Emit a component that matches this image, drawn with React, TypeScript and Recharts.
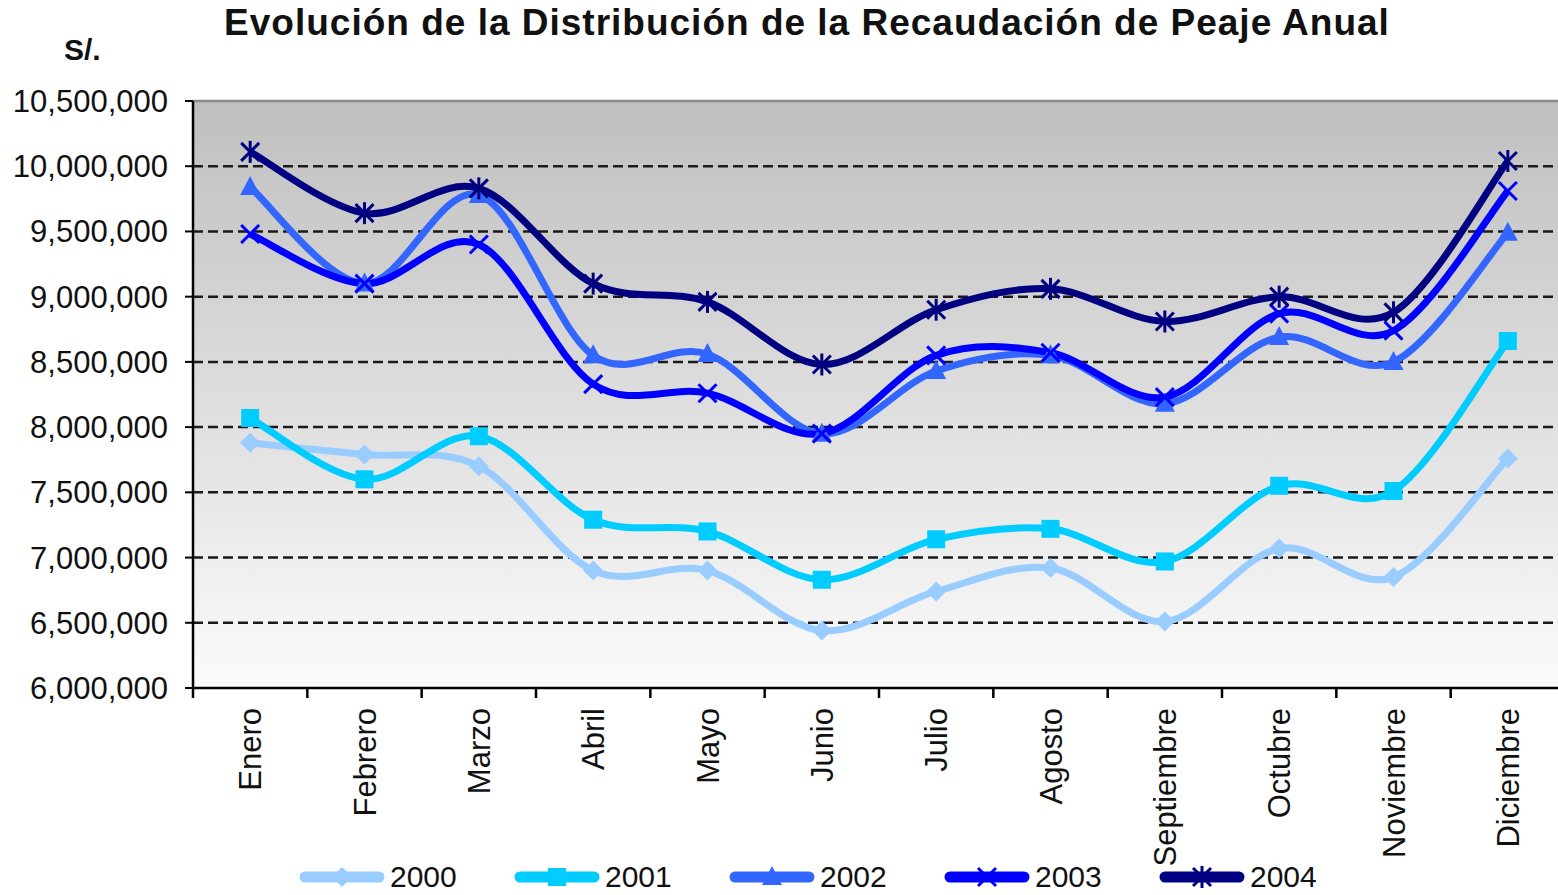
import React from 'react';
import { LineChart, Line, XAxis, YAxis, CartesianGrid, ReferenceLine, Legend } from 'recharts';

const months = ['Enero', 'Febrero', 'Marzo', 'Abril', 'Mayo', 'Junio', 'Julio', 'Agosto', 'Septiembre', 'Octubre', 'Noviembre', 'Diciembre'];
const seriesNames = ['2000', '2001', '2002', '2003', '2004'];
const v2000 = [7880000, 7790000, 7700000, 6900000, 6900000, 6440000, 6740000, 6920000, 6510000, 7070000, 6850000, 7760000];
const v2001 = [8070000, 7600000, 7930000, 7290000, 7200000, 6830000, 7140000, 7220000, 6970000, 7550000, 7510000, 8660000];
const v2002 = [9840000, 9100000, 9780000, 8550000, 8560000, 7950000, 8430000, 8550000, 8180000, 8690000, 8500000, 9490000];
const v2003 = [9480000, 9100000, 9400000, 8330000, 8260000, 7950000, 8550000, 8570000, 8230000, 8870000, 8740000, 9810000];
const v2004 = [10110000, 9640000, 9830000, 9100000, 8960000, 8480000, 8900000, 9060000, 8810000, 9000000, 8880000, 10040000];
const seriesValues = [v2000, v2001, v2002, v2003, v2004];
const yTicks = [6000000, 6500000, 7000000, 7500000, 8000000, 8500000, 9000000, 9500000, 10000000, 10500000];
const gridValues = [6500000, 7000000, 7500000, 8000000, 8500000, 9000000, 9500000, 10000000];
// category boundaries (tick marks) and category centres (labels) on the x axis
const xTicks = [0, 0.5, 1, 1.5, 2, 2.5, 3, 3.5, 4, 4.5, 5, 5.5, 6, 6.5, 7, 7.5, 8, 8.5, 9, 9.5, 10, 10.5, 11, 11.5, 12];

const seriesColors = ['#99CCFF', '#00CCFF', '#3366FF', '#0000FF', '#000080'];
const seriesShapes = ['diamond', 'square', 'triangle', 'x', 'star'];

const data = months.map((m, i) => {
  const row: any = { month: m, x: i + 0.5 };
  seriesNames.forEach((n, k) => { row[n] = seriesValues[k][i]; });
  return row;
});

// Excel-like smoothed line (Catmull-Rom) as a d3 curve factory
function smoothCurve(context: any) {
  let pts: number[][] = [];
  return {
    areaStart() {},
    areaEnd() {},
    lineStart() { pts = []; },
    point(x: number, y: number) { pts.push([+x, +y]); },
    lineEnd() {
      const n = pts.length;
      if (!n) return;
      context.moveTo(pts[0][0], pts[0][1]);
      if (n === 1) { context.lineTo(pts[0][0], pts[0][1]); return; }
      for (let i = 0; i < n - 1; i++) {
        const p0 = pts[i - 1] || pts[i];
        const p1 = pts[i];
        const p2 = pts[i + 1];
        const p3 = pts[i + 2] || p2;
        context.bezierCurveTo(
          p1[0] + (p2[0] - p0[0]) / 6, p1[1] + (p2[1] - p0[1]) / 6,
          p2[0] - (p3[0] - p1[0]) / 6, p2[1] - (p3[1] - p1[1]) / 6,
          p2[0], p2[1]
        );
      }
    },
  };
}

function Marker({ cx, cy, shape, color, s = 1 }: any) {
  if (cx == null || cy == null) return null;
  const r = 10 * s;
  if (shape === 'diamond') {
    return <polygon points={`${cx},${cy - r} ${cx + r},${cy} ${cx},${cy + r} ${cx - r},${cy}`} fill={color} />;
  }
  if (shape === 'square') {
    return <rect x={cx - 9 * s} y={cy - 9 * s} width={18 * s} height={18 * s} fill={color} />;
  }
  if (shape === 'triangle') {
    return <polygon points={`${cx},${cy - 11 * s} ${cx + 10 * s},${cy + 8 * s} ${cx - 10 * s},${cy + 8 * s}`} fill={color} />;
  }
  const d = 9 * s;
  const lines = [
    <line key="a" x1={cx - d} y1={cy - d} x2={cx + d} y2={cy + d} stroke={color} strokeWidth={3} />,
    <line key="b" x1={cx - d} y1={cy + d} x2={cx + d} y2={cy - d} stroke={color} strokeWidth={3} />,
  ];
  if (shape === 'star') {
    lines.push(<line key="c" x1={cx} y1={cy - d - 2} x2={cx} y2={cy + d + 2} stroke={color} strokeWidth={3} />);
  }
  return <g>{lines}</g>;
}

const XTick = ({ x, y, payload }: any) => {
  const v = payload.value;
  if (Number.isInteger(v)) {
    return <line x1={x} y1={y} x2={x} y2={y + 10} stroke="#000" strokeWidth={2.5} />;
  }
  const ty = y + 20;
  return (
    <text
      x={x}
      y={ty}
      transform={`rotate(-90, ${x}, ${ty})`}
      textAnchor="end"
      dy="0.36em"
      fontSize={31}
      fill="#111"
      fontFamily="'Liberation Sans', Arial, sans-serif"
    >
      {months[Math.floor(v)]}
    </text>
  );
};

const LegendRow = () => (
  <div style={{ position: 'relative', height: 0, overflow: 'visible' }}>
    {seriesNames.map((n, k) => (
      <div key={n} style={{ position: 'absolute', left: 298 + 215 * k, top: 0, display: 'flex', alignItems: 'center', height: 40 }}>
        <svg width={88} height={40}>
          <line x1={7} y1={20} x2={81} y2={20} stroke={seriesColors[k]} strokeWidth={11} strokeLinecap="round" />
          <Marker cx={44} cy={20} shape={seriesShapes[k]} color={seriesColors[k]} s={1} />
        </svg>
        <span style={{ fontSize: 30, color: '#111', marginLeft: 4, lineHeight: '40px' }}>{n}</span>
      </div>
    ))}
  </div>
);

export default function App() {
  return (
    <div style={{ position: 'fixed', left: 0, top: 0, width: 1558, height: 895, overflow: 'hidden', background: '#fff', fontFamily: "'Liberation Sans', Arial, sans-serif" }}>
      <div style={{ position: 'absolute', left: 0, width: 1614, top: 2, textAlign: 'center', fontWeight: 'bold', fontSize: 37, letterSpacing: 1, color: '#111', whiteSpace: 'nowrap' }}>
        Evolución de la Distribución de la Recaudación de Peaje Anual
      </div>
      <div style={{ position: 'absolute', left: 64, top: 33, fontWeight: 'bold', fontSize: 30, color: '#111' }}>S/.</div>
      <LineChart width={1600} height={895} data={data} margin={{ top: 101, right: 35, left: 0, bottom: 0 }}>
        <defs>
          <linearGradient id="plotBg" x1="0" y1="0" x2="0" y2="1">
            <stop offset="0%" stopColor="#bfbfbf" />
            <stop offset="100%" stopColor="#fbfbfb" />
          </linearGradient>
        </defs>
        <CartesianGrid
          vertical={false}
          fill="url(#plotBg)"
          fillOpacity={1}
          horizontalValues={gridValues}
          stroke="#1a1a1a"
          strokeWidth={2.5}
          strokeDasharray="10 5"
        />
        <XAxis
          type="number"
          dataKey="x"
          domain={[0, 12]}
          ticks={xTicks}
          interval={0}
          height={207}
          tickSize={0}
          tickMargin={0}
          tickLine={false}
          tick={<XTick />}
          axisLine={{ stroke: '#000', strokeWidth: 2.5 }}
        />
        <YAxis
          width={193}
          domain={[6000000, 10500000]}
          ticks={yTicks}
          interval={0}
          tickFormatter={(v: number) => v.toLocaleString('en-US')}
          tick={{ fontSize: 31, fill: '#111' }}
          tickSize={8}
          tickMargin={17}
          axisLine={{ stroke: '#000', strokeWidth: 2.5 }}
          tickLine={{ stroke: '#000', strokeWidth: 2 }}
        />
        <ReferenceLine y={10500000} stroke="#8a8a8a" strokeWidth={2.5} />
        {seriesNames.map((n, k) => (
          <Line
            key={n}
            dataKey={n}
            name={n}
            type={smoothCurve as any}
            stroke={seriesColors[k]}
            strokeWidth={7}
            isAnimationActive={false}
            dot={(p: any) => <Marker key={`${n}-${p.index}`} cx={p.cx} cy={p.cy} shape={seriesShapes[k]} color={seriesColors[k]} />}
            activeDot={false}
          />
        ))}
        <Legend
          content={() => <LegendRow />}
          wrapperStyle={{ position: 'absolute', left: 0, top: 857, bottom: 'auto', width: 1558, height: 0 }}
        />
      </LineChart>
    </div>
  );
}
